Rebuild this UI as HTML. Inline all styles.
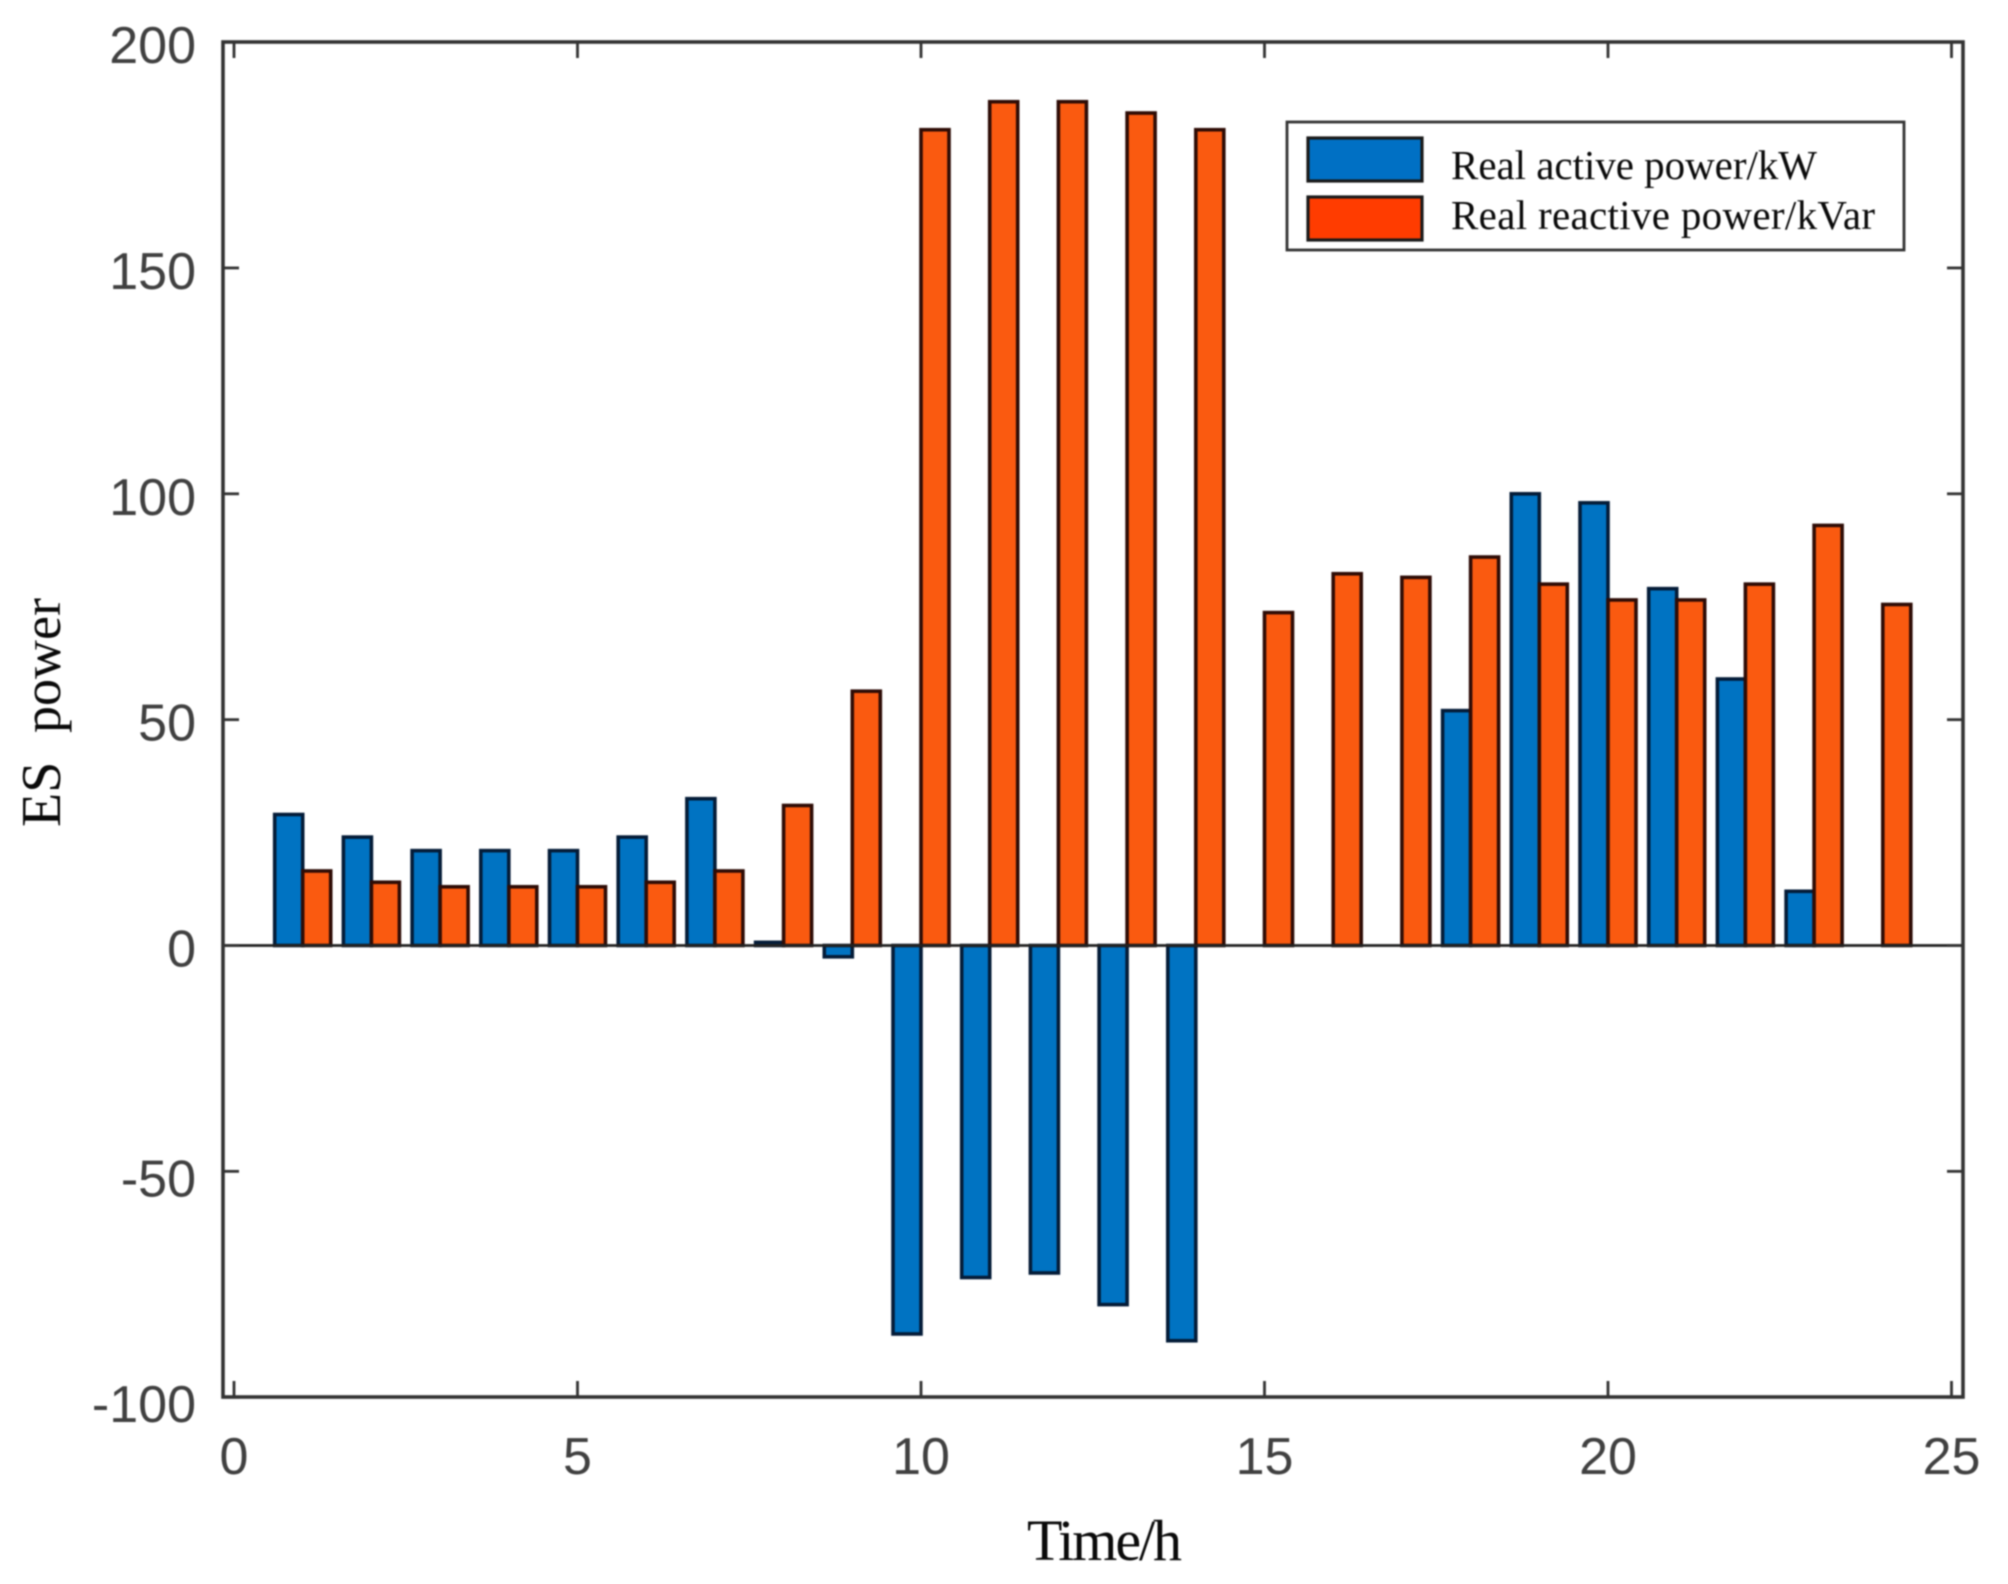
<!DOCTYPE html>
<html lang="en">
<head>
<meta charset="utf-8">
<title>ES power chart</title>
<style>
html,body{margin:0;padding:0;background:#fff;width:2008px;height:1584px;overflow:hidden}
svg{display:block;filter:blur(0.85px)}
.tick-label{font-family:"Liberation Sans",sans-serif;font-size:52px;fill:#404040}
.serif{font-family:"Liberation Serif",serif;fill:#0a0a0a}
</style>
</head>
<body>
<svg id="chart" xmlns="http://www.w3.org/2000/svg" width="2008" height="1584" viewBox="0 0 2008 1584">
  <rect x="0" y="0" width="2008" height="1584" fill="#ffffff"/>
  <g id="bars"></g>
  <g id="axes"></g>
  <text class="serif" font-size="56" text-anchor="start" transform="translate(60,827) rotate(-90)">ES <tspan x="94" font-size="54">power</tspan></text>
  <text class="serif" font-size="58" x="1027" y="1560" textLength="155" lengthAdjust="spacing">Time/h</text>
  <g>
    <rect x="1287" y="122" width="617" height="128" fill="#ffffff" stroke="#333333" stroke-width="2.8"/>
    <g>
      <rect x="1308" y="138" width="114" height="43" fill="#0070c4" stroke="#1a1a1a" stroke-width="3.2"/>
      <text class="serif" font-size="41" x="1451" y="179" textLength="366" lengthAdjust="spacing">Real active power/kW</text>
    </g>
    <g>
      <rect x="1308" y="197" width="114" height="43" fill="#ff3c00" stroke="#1a1a1a" stroke-width="3.2"/>
      <text class="serif" font-size="41" x="1451" y="229" textLength="424" lengthAdjust="spacing">Real reactive power/kVar</text>
    </g>
  </g>
</svg>
<script>
const hours = [1,2,3,4,5,6,7,8,9,10,11,12,13,14,15,16,17,18,19,20,21,22,23,24];
const activePower = [29,24,21,21,21,24,32.5,0.7,-2.5,-86,-73.5,-72.5,-79.5,-87.5,0,0,0,52,100,98,79,59,12,0];
const reactivePower = [16.5,14,13,13,13,14,16.5,31,56.3,180.6,186.8,186.8,184.3,180.6,73.7,82.3,81.5,86,80,76.5,76.5,80,93,75.5];
const xTickValues = [0,5,10,15,20,25];
const yTickValues = [-100,-50,0,50,100,150,200];

const NS = 'http://www.w3.org/2000/svg';
const plotLeft = 223, plotRight = 1963, plotTop = 42, plotBottom = 1397;
const xScale = v => 234 + v * 68.7;
const yScale = v => 945.5 - v * 4.517;
const barWidth = 28;
const tickLen = 16;

const barsLayer = document.getElementById('bars');
const axesLayer = document.getElementById('axes');

function makeEl(tag, parent, attrs) {
  const el = document.createElementNS(NS, tag);
  for (const k in attrs) el.setAttribute(k, attrs[k]);
  parent.appendChild(el);
  return el;
}

function drawBar(parent, hour, value, offset, fill, stroke) {
  const y0 = yScale(0), y1 = yScale(value);
  const el = makeEl('rect', parent, {
    x: xScale(hour) + offset,
    y: Math.min(y0, y1),
    width: barWidth,
    height: Math.abs(y1 - y0),
    fill: fill,
    stroke: stroke,
    'stroke-width': 3.6
  });
  return el;
}

hours.forEach((h, i) => {
  const a = drawBar(barsLayer, h, activePower[i], -barWidth, '#0073c2', '#041c38');
  
  
  const r = drawBar(barsLayer, h, reactivePower[i], 0, '#fa5a10', '#2e0c06');
  
  
});

const zeroLine = makeEl('line', axesLayer, {x1: plotLeft, x2: plotRight, y1: yScale(0), y2: yScale(0), stroke: '#222222', 'stroke-width': 2.8});



const frame = makeEl('rect', axesLayer, {x: plotLeft, y: plotTop, width: plotRight - plotLeft, height: plotBottom - plotTop, fill: 'none', stroke: '#333333', 'stroke-width': 3.6});



xTickValues.forEach(v => {
  const x = xScale(v);
  const b = makeEl('line', axesLayer, {x1: x, x2: x, y1: plotBottom, y2: plotBottom - tickLen, stroke: '#333333', 'stroke-width': 2.8});
  
  
  const t = makeEl('line', axesLayer, {x1: x, x2: x, y1: plotTop, y2: plotTop + tickLen, stroke: '#333333', 'stroke-width': 2.8});
  
  
  const label = makeEl('text', axesLayer, {x: x, y: 1474, 'text-anchor': 'middle', class: 'tick-label'});
  label.textContent = String(v);
  
  
});

yTickValues.forEach(v => {
  const y = yScale(v);
  const l = makeEl('line', axesLayer, {x1: plotLeft, x2: plotLeft + tickLen, y1: y, y2: y, stroke: '#333333', 'stroke-width': 2.8});
  
  
  const r = makeEl('line', axesLayer, {x1: plotRight, x2: plotRight - tickLen, y1: y, y2: y, stroke: '#333333', 'stroke-width': 2.8});
  
  
  const label = makeEl('text', axesLayer, {x: 196, y: y + (v < 0 ? 25 : 21), 'text-anchor': 'end', class: 'tick-label'});
  label.textContent = String(v);
  
  
});
</script>
</body>
</html>
